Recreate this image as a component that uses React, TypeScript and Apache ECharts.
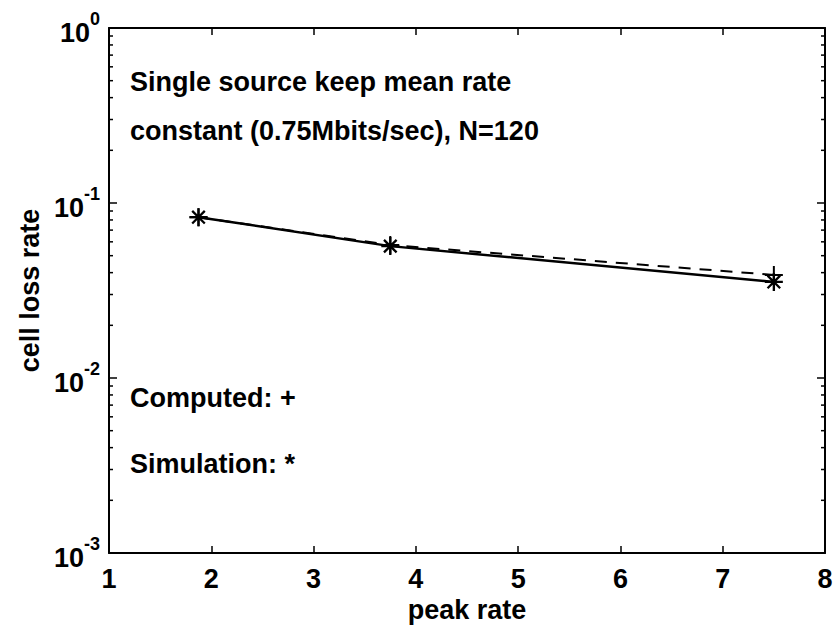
import React, { useEffect, useRef } from 'react';
import * as echarts from 'echarts';

// Data
const peakRate = [1.875, 3.75, 7.5];
const simulation = [0.083, 0.0567, 0.0354];
const computed = [0.083, 0.0575, 0.0388];

// Log minor tick positions (2..9 of each decade)
const minorTicks = [
  0.002, 0.003, 0.004, 0.005, 0.006, 0.007, 0.008, 0.009,
  0.02, 0.03, 0.04, 0.05, 0.06, 0.07, 0.08, 0.09,
  0.2, 0.3, 0.4, 0.5, 0.6, 0.7, 0.8, 0.9,
];

const xName = 'peak rate';
const yName = 'cell loss rate';
const noteLines = ['Single source keep mean rate', 'constant (0.75Mbits/sec), N=120'];
const legendLines = ['Computed: +', 'Simulation: *'];

const FONT = '"Liberation Sans", Arial, Helvetica, sans-serif';

const STAR =
  'path://M8.7 0 L11.3 0 L11.3 20 L8.7 20 Z M0 8.7 L20 8.7 L20 11.3 L0 11.3 Z ' +
  'M2.1 3.9 L3.9 2.1 L17.9 16.1 L16.1 17.9 Z M16.1 2.1 L17.9 3.9 L3.9 17.9 L2.1 16.1 Z';
const PLUS = 'path://M8.9 0 L11.1 0 L11.1 20 L8.9 20 Z M0 8.9 L20 8.9 L20 11.1 L0 11.1 Z';

export default function App() {
  const ref = useRef<HTMLDivElement>(null);
  useEffect(() => {
    document.body.style.margin = '0';
    const chart = echarts.init(ref.current!, null, { renderer: 'svg' });
    const axisLine = { show: true, lineStyle: { color: '#000', width: 2 } };
    const tickStyle = { show: true, inside: true, length: 7, lineStyle: { color: '#000', width: 1.5 } };
    const option: any = {
      animation: false,
      backgroundColor: '#fff',
      grid: { left: 109, right: 11, top: 28, bottom: 76 },
      xAxis: [
        {
          type: 'value', min: 1, max: 8, interval: 1, position: 'bottom',
          name: xName, nameLocation: 'middle', nameGap: 42,
          nameTextStyle: { fontFamily: FONT, fontWeight: 'bold', fontSize: 27, color: '#000' },
          axisLine, axisTick: tickStyle, splitLine: { show: false },
          axisLabel: { fontFamily: FONT, fontWeight: 'bold', fontSize: 27, color: '#000', margin: 12 },
        },
        {
          type: 'value', min: 1, max: 8, interval: 1, position: 'top',
          axisLine, axisTick: tickStyle, splitLine: { show: false }, axisLabel: { show: false },
        },
      ],
      yAxis: [
        {
          type: 'log', logBase: 10, min: 0.001, max: 1, position: 'left',
          name: yName, nameLocation: 'middle', nameGap: 66, nameRotate: 90,
          nameTextStyle: { fontFamily: FONT, fontWeight: 'bold', fontSize: 27, color: '#000' },
          axisLine, axisTick: { ...tickStyle, length: 8 }, splitLine: { show: false },
          axisLabel: {
            margin: 9,
            formatter: (v: number) => `{b|10}{s|${Math.round(Math.log10(v))}}`,
            rich: {
              b: { fontFamily: FONT, fontWeight: 'bold', fontSize: 27, color: '#000', lineHeight: 36, verticalAlign: 'bottom' },
              s: { fontFamily: FONT, fontWeight: 'bold', fontSize: 18, color: '#000', lineHeight: 18, verticalAlign: 'top' },
            },
          },
        },
        {
          type: 'log', logBase: 10, min: 0.001, max: 1, position: 'right',
          axisLine, axisTick: { ...tickStyle, length: 8 }, splitLine: { show: false }, axisLabel: { show: false },
        },
      ],
      series: [
        {
          name: 'Simulation', type: 'line', xAxisIndex: 0, yAxisIndex: 0,
          data: peakRate.map((x, i) => [x, simulation[i]]),
          lineStyle: { color: '#000', width: 2.5 },
          itemStyle: { color: '#000' },
          symbol: STAR, symbolSize: 18, showSymbol: true,
        },
        {
          name: 'Computed', type: 'line', xAxisIndex: 0, yAxisIndex: 0,
          data: peakRate.map((x, i) => [x, computed[i]]),
          lineStyle: { color: '#000', width: 2, type: [12, 9] },
          itemStyle: { color: '#000' },
          symbol: PLUS, symbolSize: 18, showSymbol: true,
        },
        {
          type: 'custom', xAxisIndex: 0, yAxisIndex: 0, silent: true, clip: false,
          data: minorTicks.map((v) => [1, v]),
          renderItem: (params: any, api: any) => {
            const v = api.value(1);
            const l = api.coord([1, v]);
            const r = api.coord([8, v]);
            return {
              type: 'group',
              children: [
                { type: 'line', shape: { x1: l[0], y1: l[1], x2: l[0] + 4, y2: l[1] }, style: { stroke: '#000', lineWidth: 1.5 } },
                { type: 'line', shape: { x1: r[0], y1: r[1], x2: r[0] - 4, y2: r[1] }, style: { stroke: '#000', lineWidth: 1.5 } },
              ],
            };
          },
        },
      ],
      graphic: [
        ...noteLines.map((t, i) => ({
          type: 'text', x: 130, y: 82 + i * 49,
          style: { text: t, fontFamily: FONT, fontWeight: 'bold', fontSize: 27, fill: '#000', verticalAlign: 'middle' },
        })),
        ...legendLines.map((t, i) => ({
          type: 'text', x: 130, y: 398 + i * 66,
          style: { text: t, fontFamily: FONT, fontWeight: 'bold', fontSize: 27, fill: '#000', verticalAlign: 'middle' },
        })),
      ],
    };
    chart.setOption(option);
    return () => chart.dispose();
  }, []);
  return <div ref={ref} style={{ width: 836, height: 629 }} />;
}
